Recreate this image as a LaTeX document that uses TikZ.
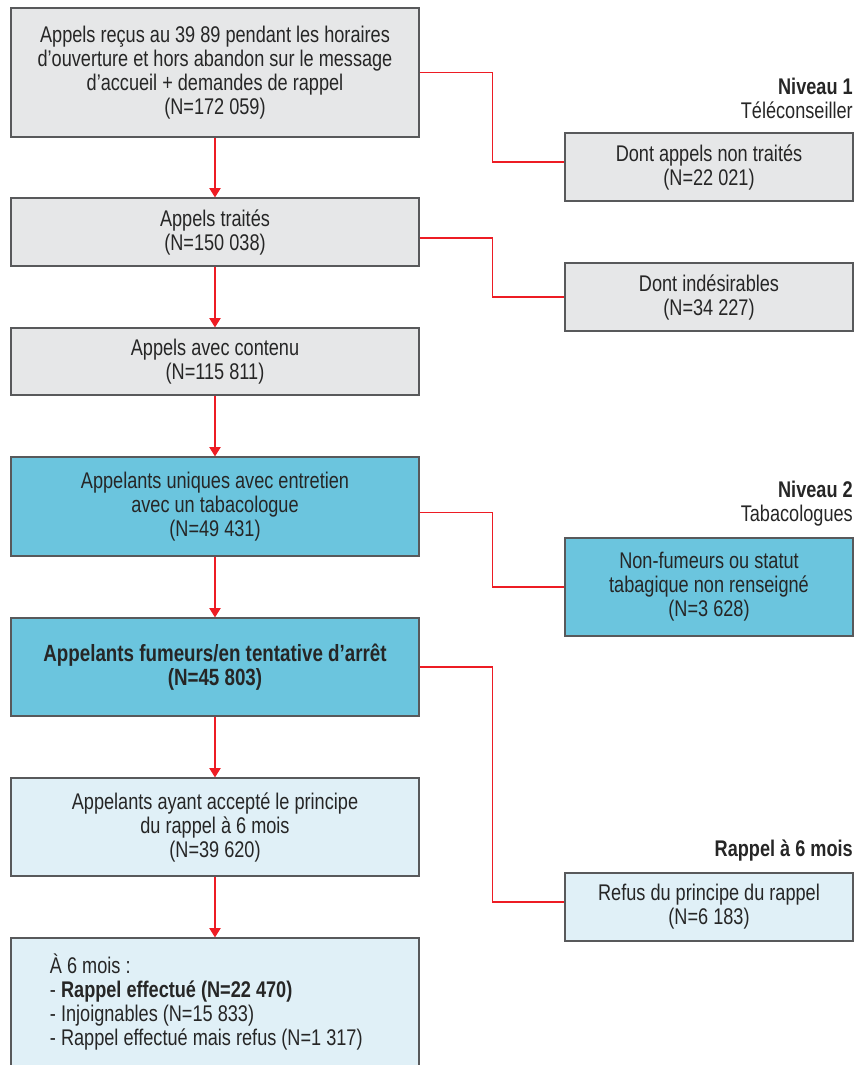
\documentclass[tikz,border=0pt]{standalone}
\usepackage{fontspec}
\setmainfont{Liberation Sans}[FakeStretch=0.80]
\usepackage{xcolor}
\usetikzlibrary{arrows.meta}
\definecolor{boxgray}{RGB}{230,231,232}
\definecolor{boxcyan}{RGB}{107,197,222}
\definecolor{boxpale}{RGB}{224,240,247}
\definecolor{linered}{RGB}{237,28,36}
\definecolor{edgegray}{RGB}{88,89,91}

\begin{document}
\begin{tikzpicture}[x=0.75pt,y=-0.75pt,
  box/.style={draw=edgegray,line width=0.9pt,align=center,inner sep=0pt,
              font=\fontsize{17}{18}\selectfont,text=black!85},
  leftbox/.style={box,minimum width=306pt},
  rightbox/.style={box,minimum width=216pt},
  arr/.style={-{Triangle[length=7pt,width=8.5pt]},linered,line width=0.8pt},
  branch/.style={linered,line width=0.8pt},
  level/.style={anchor=east,align=right,inner sep=0pt,
                font=\fontsize{17}{18}\selectfont,text=black!85}]
  \useasboundingbox (0,0) rectangle (855,1065);
  % left column
  \node[leftbox,fill=boxgray,minimum height=96.75pt](B1) at (215,72.5)
    {Appels reçus au 39 89 pendant les horaires\\d’ouverture et hors abandon sur le message\\d’accueil + demandes de rappel\\(N=172 059)};
  \node[leftbox,fill=boxgray,minimum height=51pt](B2) at (215,232) {Appels traités\\(N=150 038)};
  \node[leftbox,fill=boxgray,minimum height=50.25pt](B3) at (215,361.5) {Appels avec contenu\\(N=115 811)};
  \node[leftbox,fill=boxcyan,minimum height=74.25pt](B4) at (215,506.5)
    {Appelants uniques avec entretien\\avec un tabacologue\\(N=49 431)};
  \node[leftbox,fill=boxcyan,minimum height=73.5pt,font=\fontsize{17.6}{18}\selectfont\bfseries](B5) at (215,667)
    {Appelants fumeurs/en tentative d’arrêt\\(N=45 803)};
  \node[leftbox,fill=boxpale,minimum height=73.5pt](B6) at (215,827)
    {Appelants ayant accepté le principe\\du rappel à 6 mois\\(N=39 620)};
  \node[leftbox,fill=boxpale,minimum height=96pt,align=flush left,text width=247.5pt,inner xsep=29.25pt](B7) at (215,1002)
    {À 6 mois :\\- \textbf{Rappel effectué (N=22 470)}\\- Injoignables (N=15 833)\\- Rappel effectué mais refus (N=1 317)};
  % right column
  \node[rightbox,fill=boxgray,minimum height=51pt](R1) at (709,167) {Dont appels non traités\\(N=22 021)};
  \node[rightbox,fill=boxgray,minimum height=51pt](R2) at (709,297) {Dont indésirables\\(N=34 227)};
  \node[rightbox,fill=boxcyan,minimum height=73.5pt](R3) at (709,587)
    {Non-fumeurs ou statut\\tabagique non renseigné\\(N=3 628)};
  \node[rightbox,fill=boxpale,minimum height=51pt](R4) at (709,907) {Refus du principe du rappel\\(N=6 183)};
  % level titles
  \node[level](L1) at (853,98) {\textbf{Niveau 1}\\Téléconseiller};
  \node[level](L2) at (853,503.5) {\textbf{Niveau 2}\\Tabacologues};
  \node[level](L3) at (853,851) {\textbf{Rappel à 6 mois}};
  % connectors
  \draw[arr](B1)--(B2); \draw[arr](B2)--(B3); \draw[arr](B3)--(B4);
  \draw[arr](B4)--(B5); \draw[arr](B5)--(B6); \draw[arr](B6)--(B7);
  \draw[branch](B1.east)--++(73,0)|-([yshift=3.75pt]R1.west);
  \draw[branch]([yshift=-4.5pt]B2.east)--++(73,0)|-(R2.west);
  \draw[branch]([yshift=-4.5pt]B4.east)--++(73,0)|-(R3.west);
  \draw[branch](B5.east)--++(73,0)|-([yshift=3.75pt]R4.west);
\end{tikzpicture}
\end{document}
